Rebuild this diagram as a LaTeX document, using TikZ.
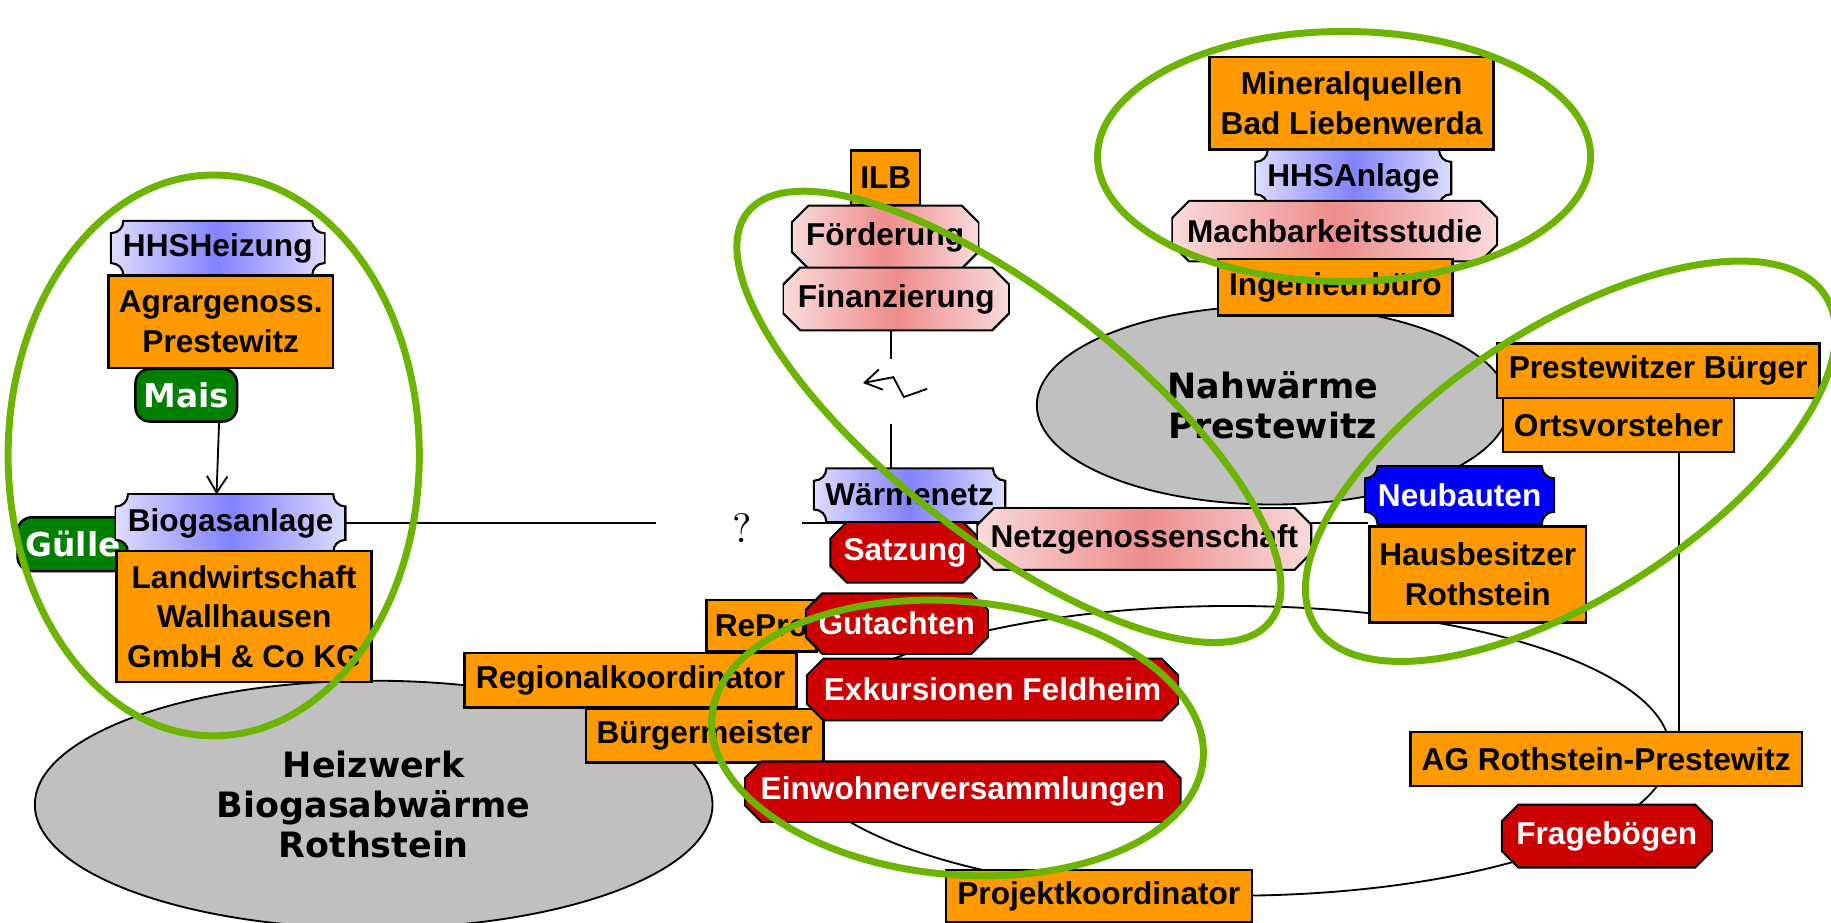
\documentclass[tikz,border=0pt]{standalone}
\usepackage{fontspec}
\usepackage{tikz}
\usetikzlibrary{calc,arrows.meta,shapes.geometric}
\newfontfamily\arialfont{Liberation Sans}
\newfontfamily\verdfont{DejaVu Sans}
\newcommand\boxfont{\arialfont\bfseries\fontsize{7.7}{9.7}\selectfont}
\newcommand\pillfont{\verdfont\bfseries\fontsize{8}{9.6}\selectfont}
\newcommand\blobfont{\verdfont\bfseries\fontsize{8.5}{9.8}\selectfont}
\definecolor{boxorange}{HTML}{FF9900}
\definecolor{octred}{HTML}{CC0000}
\definecolor{pinklite}{HTML}{F9DADA}
\definecolor{pinkdark}{HTML}{EE8C8C}
\definecolor{tktlite}{HTML}{DCDCFF}
\definecolor{tktdark}{HTML}{8282FF}
\definecolor{tktblue}{HTML}{0000FF}
\definecolor{pillgreen}{HTML}{008000}
\definecolor{blobgrey}{HTML}{C0C0C0}
\definecolor{ringgreen}{HTML}{6CB400}
\pgfdeclarelayer{back}
\pgfsetlayers{back,main}
% outline of a box with hollow corners
\newcommand\tktpath[1]{([yshift=3pt]#1.south west) -- ([yshift=-3pt]#1.north west)
  arc[start angle=270,end angle=360,radius=3pt] -- ([xshift=-3pt]#1.north east)
  arc[start angle=180,end angle=270,radius=3pt] -- ([yshift=3pt]#1.south east)
  arc[start angle=90,end angle=180,radius=3pt] -- ([xshift=3pt]#1.south west)
  arc[start angle=0,end angle=90,radius=3pt] -- cycle}
% outline of a box with cut corners
\newcommand\octpath[1]{([yshift=4pt]#1.south west) -- ([yshift=-4pt]#1.north west)
  -- ([xshift=4pt]#1.north west) -- ([xshift=-4pt]#1.north east)
  -- ([yshift=-4pt]#1.north east) -- ([yshift=4pt]#1.south east)
  -- ([xshift=-4pt]#1.south east) -- ([xshift=4pt]#1.south west) -- cycle}
\tikzset{
	obox/.style={rectangle,draw=black,line width=0.6pt,fill=boxorange,font=\boxfont,inner sep=0pt,align=center},
	redoct/.style={rectangle,inner sep=0pt,font=\boxfont,text=white,
		path picture={\fill[octred] \octpath{path picture bounding box};},
		append after command={\pgfextra{\draw[line width=0.6pt] \octpath{\tikzlastnode};}}},
	pinkoct/.style={redoct,text=black,
		path picture={\shade[left color=pinklite,right color=pinklite,middle color=pinkdark] \octpath{path picture bounding box};}},
	tkt/.style={rectangle,inner sep=0pt,font=\boxfont,
		path picture={\shade[left color=tktlite,right color=tktlite,middle color=tktdark] \tktpath{path picture bounding box};},
		append after command={\pgfextra{\draw[line width=0.6pt] \tktpath{\tikzlastnode};}}},
	bluetkt/.style={tkt,text=white,path picture={\fill[tktblue] \tktpath{path picture bounding box};}},
	pill/.style={rectangle,rounded corners=3.5pt,draw=black,line width=0.6pt,fill=pillgreen,text=white,font=\pillfont,inner sep=0pt},
	blob/.style={ellipse,draw=black,line width=0.45pt,fill=blobgrey,font=\blobfont,align=center,inner sep=0pt},
	link/.style={draw=black,line width=0.45pt},
	linkarrow/.style={-{Straight Barb[length=4pt,width=5pt]},line width=0.45pt}
}
\begin{document}
\begin{tikzpicture}[x=0.01cm,y=0.01cm,
			ring/.style={draw=ringgreen,line width=1.7pt}]
	\useasboundingbox (0,0) rectangle (1568,-790.4);
	% grey areas
	\node[blob,minimum width=5.8cm,minimum height=2.12cm] (heiz) at (320,-689) {Heizwerk\\Biogasabwärme\\Rothstein};
	\node[blob,minimum width=4.04cm,minimum height=1.7cm] (nahw) at (1090,-347) {Nahwärme\\Prestewitz};
	% left
	\node[pill,minimum width=0.95cm,minimum height=0.46cm] (guelle) at (62.5,-466) {Gülle};
	\node[tkt,minimum width=1.95cm,minimum height=0.48cm] (biogas) at (197.5,-448) {Biogasanlage};
	\node[obox,minimum width=2.18cm,minimum height=1.12cm] (landw) at (209,-528) {Landwirtschaft\\Wallhausen\\GmbH \& Co KG};
	\node[tkt,minimum width=1.81cm,minimum height=0.45cm] (hhsh) at (186.5,-212.5) {HHSHeizung};
	\node[obox,minimum width=1.92cm,minimum height=0.79cm] (agrar) at (189,-275.5) {Agrargenoss.\\Prestewitz};
	\node[pill,minimum width=0.87cm,minimum height=0.45cm] (mais) at (159.5,-338.5) {Mais};
	% middle
	\node[obox,minimum width=0.59cm,minimum height=0.47cm] (ilb) at (758.5,-152.5) {ILB};
	\node[pinkoct,minimum width=1.58cm,minimum height=0.52cm] (foerd) at (758,-203) {Förderung};
	\node[pinkoct,minimum width=1.91cm,minimum height=0.52cm] (finanz) at (767.5,-256) {Finanzierung};
	\node[tkt,minimum width=1.62cm,minimum height=0.44cm] (waerme) at (779,-424) {Wärmenetz};
	\node[redoct,minimum width=1.26cm,minimum height=0.5cm] (satz) at (775,-473) {Satzung};
	\node[pinkoct,minimum width=2.84cm,minimum height=0.51cm] (netz) at (980,-461.5) {Netzgenossenschaft};
	% top right
	\node[obox,minimum width=2.43cm,minimum height=0.79cm] (mineral) at (1157.5,-88.5) {Mineralquellen\\Bad Liebenwerda};
	\node[tkt,minimum width=1.66cm,minimum height=0.47cm] (hhsa) at (1159,-152.5) {HHSAnlage};
	\node[pinkoct,minimum width=2.76cm,minimum height=0.5cm] (machb) at (1143,-198) {Machbarkeitsstudie};
	\node[obox,minimum width=2.01cm,minimum height=0.48cm] (ingen) at (1143.5,-246) {Ingenieurbüro};
	% right
	\node[obox,minimum width=2.76cm,minimum height=0.47cm] (prest) at (1420,-317.5) {Prestewitzer Bürger};
	\node[obox,minimum width=1.98cm,minimum height=0.46cm] (ortsv) at (1386,-364) {Ortsvorsteher};
	\node[bluetkt,minimum width=1.6cm,minimum height=0.48cm] (neub) at (1250,-424) {Neubauten};
	\node[obox,minimum width=1.85cm,minimum height=0.82cm] (hausb) at (1265.5,-492) {Hausbesitzer\\Rothstein};
	\node[obox,minimum width=3.35cm,minimum height=0.46cm] (agr) at (1375.5,-650) {AG Rothstein-Prestewitz};
	\node[redoct,minimum width=1.78cm,minimum height=0.52cm] (frage) at (1376,-716) {Fragebögen};
	% bottom
	\node[obox,minimum width=0.94cm,minimum height=0.44cm] (repro) at (652,-536) {RePro};
	\node[redoct,minimum width=1.54cm,minimum height=0.5cm] (gut) at (768,-534) {Gutachten};
	\node[obox,minimum width=2.84cm,minimum height=0.47cm] (regio) at (540,-582.5) {Regionalkoordinator};
	\node[obox,minimum width=2.03cm,minimum height=0.46cm] (buerg) at (603.5,-630) {Bürgermeister};
	\node[redoct,minimum width=3.16cm,minimum height=0.51cm] (exk) at (850,-590.5) {Exkursionen Feldheim};
	\node[redoct,minimum width=3.71cm,minimum height=0.5cm] (einw) at (824.5,-678) {Einwohnerversammlungen};
	\node[obox,minimum width=2.62cm,minimum height=0.45cm] (proj) at (941,-767.5) {Projektkoordinator};
	% question mark and clash
	\node[font=\fontsize{10}{12}\selectfont,inner sep=0pt] (qm) at (636,-452) {?};
	\coordinate (gapl) at (562,-448);
	\coordinate (gapr) at (687,-448);
	\node[inner sep=0pt,minimum width=0.6cm,minimum height=0.54cm] (clash) at (763,-335) {};
	\draw[link,linkarrow] ($(clash)+(31,2)$) -- ($(clash)+(11,-5)$) -- ($(clash)+(2,12)$) -- ($(clash)+(-24,7)$);
	\begin{pgfonlayer}{back}
		\draw[link] (1055,-643) ellipse[x radius=3.75cm,y radius=1.24cm];
		\draw[link] (biogas.east) -- (gapl);
		\draw[link] (gapr) -- (hausb.west |- gapr);
		\draw[link] (finanz.south -| clash) -- (clash.north);
		\draw[link] (clash.south) -- (waerme.north -| clash);
		\draw[link] ([xshift=0.52cm]ortsv.south) -- ([xshift=0.52cm]ortsv.south |- agr.north);
	\end{pgfonlayer}
	\draw[linkarrow] (mais.-40) -- (biogas.116);
	% groups
	\draw[ring] (183,-390) ellipse[x radius=1.76cm,y radius=2.4cm];
	\draw[ring,rotate around={-38:(864,-357)}] (864,-357) ellipse[x radius=2.84cm,y radius=1.04cm];
	\draw[ring,rotate around={-5:(820,-632)}] (820,-632) ellipse[x radius=2.11cm,y radius=1.17cm];
	\draw[ring] (1151,-134) ellipse[x radius=2.11cm,y radius=1.07cm];
	\draw[ring,rotate around={33:(1345,-395)}] (1345,-395) ellipse[x radius=2.6cm,y radius=1.15cm];
\end{tikzpicture}
\end{document}
